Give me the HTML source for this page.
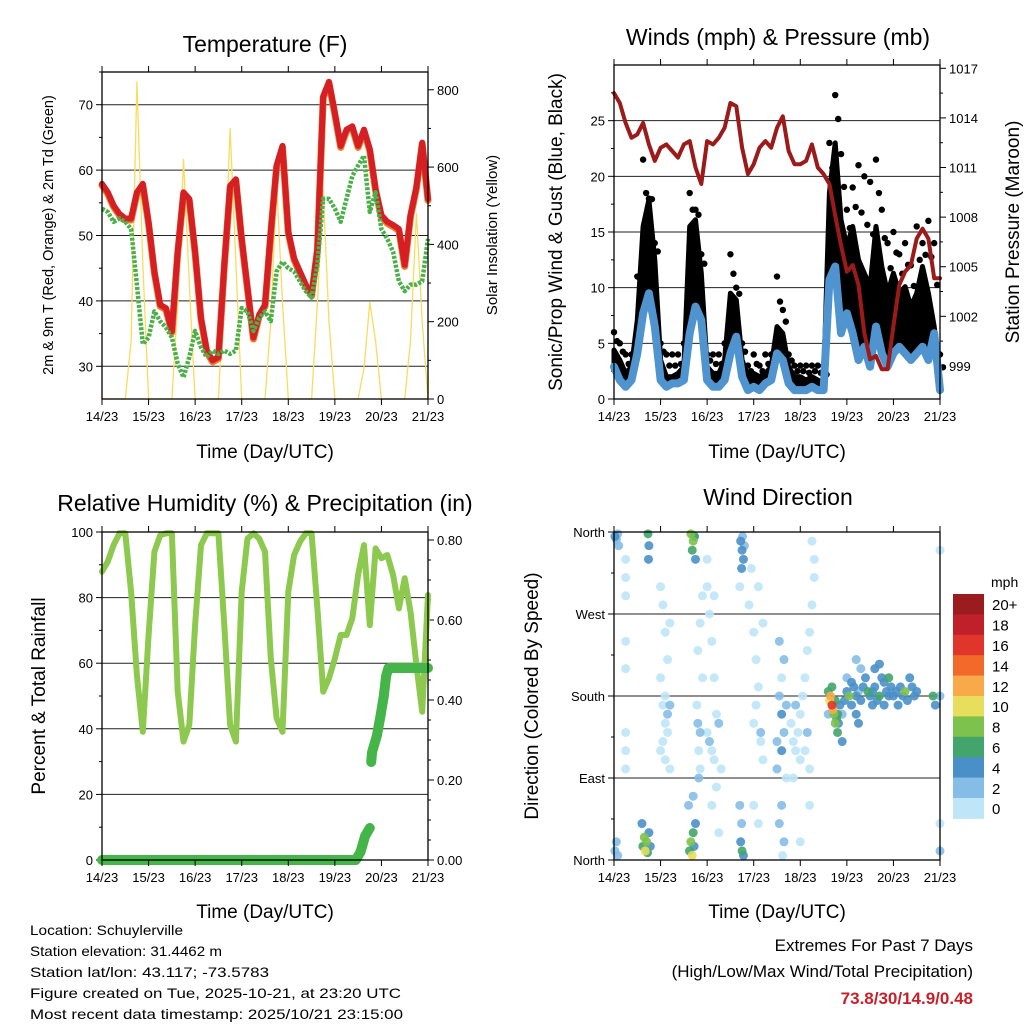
<!DOCTYPE html>
<html><head><meta charset="utf-8"><style>
html,body{margin:0;padding:0;background:#fff;}
svg{display:block;font-family:"Liberation Sans",Arial,sans-serif;}
</style></head><body>
<svg id="chart" width="1024" height="1024" viewBox="0 0 1024 1024" xmlns="http://www.w3.org/2000/svg">
<rect width="1024" height="1024" fill="#fff"/>
<g id="g1"></g>
<g id="g2"></g>
<g id="g3"></g>
<g id="g4"></g>
<g id="g5"></g>
<g font-size="14" fill="#000">
<text x="30" y="935" textLength="153" lengthAdjust="spacingAndGlyphs">Location: Schuylerville</text>
<text x="30" y="956" textLength="192" lengthAdjust="spacingAndGlyphs">Station elevation: 31.4462 m</text>
<text x="30" y="977" textLength="239" lengthAdjust="spacingAndGlyphs">Station lat/lon: 43.117; -73.5783</text>
<text x="30" y="998" textLength="371" lengthAdjust="spacingAndGlyphs">Figure created on Tue, 2025-10-21, at 23:20 UTC</text>
<text x="30" y="1019" textLength="373" lengthAdjust="spacingAndGlyphs">Most recent data timestamp: 2025/10/21 23:15:00</text>
</g>
<g font-size="17" text-anchor="end">
<text x="973" y="951">Extremes For Past 7 Days</text>
<text x="973" y="977">(High/Low/Max Wind/Total Precipitation)</text>
<text x="973" y="1004" fill="#c8202a" font-weight="bold">73.8/30/14.9/0.48</text>
</g>
</svg>
<script>
// ---------- data (3-hourly, t in days from 14/23) ----------
const dayLabels = ["14/23","15/23","16/23","17/23","18/23","19/23","20/23","21/23"];
const tempF = [57.9,56.6,54.6,53.3,52.6,52.6,56.6,57.9,52,44.5,39.4,38.9,35.4,47.5,56.6,55.6,47.5,37.4,32.4,30.9,31.4,45.5,57.6,58.6,49.5,42,34.4,37.9,39.4,50.6,60.7,63.7,50.6,46.5,44.5,42.5,41,48,71.3,73.5,68.7,63.7,66.2,66.7,63.7,66.2,63.2,57.1,53.1,52.1,51.6,51,45.5,53.1,57.4,64.2,55.6];
const dewF = [54.1,53.6,52.1,52.6,52.1,51,42.5,33.4,34.4,38.4,36.9,35.9,34.4,30.4,28.3,31.4,35.4,32.9,31.4,32.4,31.9,32.4,31.9,32.4,38.9,38.4,35.4,37.4,38.4,36.9,44.5,46,45,44.5,43,41.5,40.5,45.5,55.6,55.6,54.1,52.1,55.6,59.1,60.7,62.2,53.6,56.6,51,49.5,47.5,43,41.5,42.5,42.5,43,49.5];
const solar = [0,0,0,0,0,150,820,350, 0,0,0,0,0,250,620,300, 0,0,0,0,0,300,700,350, 0,0,0,0,0,200,560,250, 0,0,0,0,0,250,540,200, 0,0,0,0,0,80,250,150, 0,0,0,0,0,150,480,200, 0];
const pressure = [1015.5,1014.9,1013.7,1012.8,1013.0,1013.7,1012.4,1011.4,1012.2,1012.4,1012.0,1011.6,1012.4,1012.6,1011.0,1010.0,1012.6,1012.4,1012.8,1013.4,1014.9,1014.7,1012.2,1010.6,1011.2,1012.2,1012.6,1012.2,1013.4,1014.1,1012.0,1011.2,1011.2,1011.4,1012.4,1011.0,1010.6,1010.0,1008.1,1006.3,1004.7,1005.1,1003.9,1001.0,999.4,999.6,998.8,998.8,1001.4,1003.9,1004.7,1005.1,1006.7,1007.3,1006.7,1004.3,1004.3];
const wind = [2.9,1.7,1.1,1.7,4.1,7.7,9.5,6.5,1.7,1.1,1.4,1.4,1.7,5.9,8.3,7.1,1.7,1.1,1.1,1.7,4.1,5.6,2.0,0.8,1.1,0.8,1.4,1.7,4.1,3.5,1.4,0.8,0.8,0.8,1.1,0.8,0.8,10.7,11.9,5.9,7.7,5.9,3.5,4.7,2.9,6.5,4.1,2.9,4.1,4.7,4.1,3.5,4.1,4.7,3.5,5.9,0.8];
const gust = [4.4,3.5,2.3,2.9,7.1,15.5,17.9,12.5,3.5,2.0,2.0,2.3,2.9,15.5,16.1,11.3,2.9,2.3,2.3,3.5,9.5,8.9,3.5,2.0,2.3,2.0,2.3,2.9,6.5,5.9,2.9,2.0,2.0,1.7,2.0,1.7,1.4,18.5,23.0,16.1,13.7,15.5,12.5,11.3,10.1,15.5,11.9,9.5,11.3,9.5,10.1,8.3,9.5,11.9,9.5,6.5,1.7];
const gustMax = [6,5,4,4,11,21.5,18,14,5,4,4,4,5,18.5,17,13,4,4,4,5,13,10,5,3,4,3,4,4,11,8,4,3,3,3,3,3,3,23,27.3,22,17,19,21,20,19.5,21.5,17,14,15,13,14,12,15.5,14,16,14,4];
const rh = [87.9,91,96,99.6,99.6,81.8,56.4,39.1,68.6,94,99,99.6,99.6,51.3,36.1,41.2,71.6,96,99.6,99.6,99.6,71.6,41.2,36.1,81.8,98,99.6,98,94,61.5,43.2,39.1,81.8,93,97,99.6,99.6,76.7,51.3,55.4,61.5,68.6,68.6,73.7,86.9,96,71.6,95,92,93,86.9,76.7,85.9,75.7,59.5,45.2,80.8];
const precipT = [0,5.45,5.55,5.65,5.75,null,5.78,5.8,5.9,5.98,6.05,6.1,6.15,7];
const precipV = [0,0,0.02,0.06,0.08,null,0.245,0.27,0.31,0.36,0.41,0.46,0.48,0.48];
const dirT = [0.02,0.05,0.08,0.1,0.02,0.05,0.08,0.25,0.25,0.25,0.25,0.25,0.25,0.25,0.25,0.62,0.65,0.67,0.7,0.72,0.75,0.78,0.6,0.73,0.75,0.74,1.0,1.05,1.1,1.0,1.05,1.1,1.15,1.0,1.1,1.2,1.15,1.2,1.05,1.15,1.2,1.1,1.62,1.65,1.68,1.7,1.72,1.75,1.6,1.7,1.65,1.7,1.72,1.68,1.75,1.73,1.8,1.85,1.82,1.85,1.78,1.9,1.8,1.85,1.9,1.82,2.0,2.05,2.1,2.15,2.2,2.0,2.05,2.1,2.15,2.25,2.3,2.2,2.1,2.25,2.0,2.15,2.72,2.75,2.78,2.74,2.8,2.76,2.7,2.72,2.75,2.78,2.74,2.7,2.9,3.0,3.05,3.1,3.0,3.15,3.2,3.05,2.95,3.1,3.2,3.0,3.1,3.15,3.55,3.6,3.65,3.5,3.6,3.7,3.55,3.65,3.6,3.5,3.7,3.6,3.55,3.65,3.62,3.8,3.85,3.9,3.95,4.0,4.05,4.1,4.15,4.2,4.25,4.3,4.1,4.2,3.9,4.0,4.15,4.25,4.3,3.85,4.0,4.2,4.6,4.63,4.65,4.68,4.7,4.72,4.75,4.78,4.8,4.82,4.85,4.9,4.68,4.75,4.8,4.9,4.6,4.95,5.0,5.05,5.1,5.15,5.2,5.25,5.3,5.35,5.1,5.2,5.3,5.4,5.45,5.5,5.25,5.0,5.2,5.55,5.6,5.65,5.7,5.75,5.8,5.85,5.9,5.6,5.7,5.55,5.8,5.9,5.95,6.0,6.05,6.1,6.15,6.2,6.25,6.3,6.35,6.4,6.45,6.5,6.85,6.9,7.0,7.0,7.0,7.0];
const dirD = [355,352,358,345,10,20,5,330,310,290,240,210,140,120,100,15,25,10,20,8,30,15,40,358,345,330,300,280,250,200,170,150,140,120,110,100,220,260,130,160,170,180,10,20,5,30,15,40,60,70,358,350,355,340,330,355,150,140,120,100,170,200,230,260,290,90,300,270,240,200,160,140,130,120,110,150,100,80,60,30,330,290,350,340,330,320,345,355,300,20,10,5,40,60,280,250,220,190,150,130,110,170,320,300,260,60,40,140,180,160,140,130,120,170,240,220,200,100,90,60,40,20,5,150,130,120,140,160,180,200,230,250,280,310,120,100,170,110,140,350,330,90,20,60,185,175,180,170,165,160,150,155,140,150,170,160,190,175,160,130,160,175,185,180,195,190,180,185,175,190,170,160,210,200,185,180,150,200,220,185,190,175,180,200,195,185,180,210,215,170,170,200,190,180,185,170,190,180,185,175,200,190,180,185,180,170,180,40,10,340];
const dirS = [4,3,3,2,2,2,3,1,1,1,1,1,1,1,1,6,8,10,9,6,5,4,4,6,4,4,1,1,1,1,1,1,1,1,1,1,1,1,1,2,2,1,6,9,10,7,5,4,3,3,8,9,7,6,4,4,2,3,1,1,1,1,1,1,1,3,1,1,1,1,1,1,3,1,1,2,1,1,1,1,1,1,4,4,4,4,3,3,1,4,6,5,3,2,1,1,1,1,1,1,1,1,1,1,1,1,1,2,3,4,3,2,4,2,3,3,1,3,1,2,3,3,1,1,1,1,1,1,1,1,1,1,1,1,1,1,2,1,2,1,1,1,1,1,6,10,12,16,12,8,8,6,6,4,4,3,7,7,7,5,3,5,5,8,4,5,5,3,5,4,4,4,3,4,6,4,4,3,3,4,5,4,6,4,5,4,4,5,4,4,4,7,4,5,5,4,4,4,8,4,5,5,4,4,7,5,2,1,2,1];
const speedLabels = ["20+","18","16","14","12","10","8","6","4","2","0"];
const speedColors = ["#9b1c1f","#c0202a","#e0352b","#f26a2a","#f8a94a","#e6de5c","#7cc24c","#43a56b","#4a90c8","#86bde6","#bfe6f8"];

// ---------- helpers ----------
const NS = "http://www.w3.org/2000/svg";
function mk(parent, tag, attrs, text) {
  const e = document.createElementNS(NS, tag);
  for (const k in attrs) e.setAttribute(k, attrs[k]);
  if (text !== undefined) e.textContent = text;
  parent.appendChild(e);
  return e;
}
const tIdx = i => i * 0.125;
function panel(g, L, R, T, B) { return t => L + (R - L) * t / 7; }
function linY(v0, v1, B, T) { return v => B - (v - v0) / (v1 - v0) * (B - T); }
function pathFrom(xs, ys) {
  let d = ""; let pen = false;
  for (let i = 0; i < xs.length; i++) {
    if (xs[i] === null || ys[i] === null) { pen = false; continue; }
    d += (pen ? "L" : "M") + xs[i].toFixed(1) + "," + ys[i].toFixed(1);
    pen = true;
  }
  return d;
}
function frame(g, L, R, T, B) {
  const f = mk(g, "rect", {x: L, y: T, width: R - L, height: B - T, fill: "none", stroke: "#000", "stroke-width": 1.3});
  
  
}
function xAxis(g, L, R, T, B, sx, titleY) {
  const ax = mk(g, "g", {});
  
  
  dayLabels.forEach((lab, i) => {
    const x = sx(i);
    mk(ax, "line", {x1: x, x2: x, y1: B, y2: B + 6, stroke: "#000", "stroke-width": 1});
    mk(ax, "line", {x1: x, x2: x, y1: T, y2: T - 6, stroke: "#000", "stroke-width": 1});
    const tx = mk(ax, "text", {x: x, y: B + 22, "font-size": 13, "text-anchor": "middle"}, lab);
    
    
  });
  const tt = mk(ax, "text", {x: (L + R) / 2, y: titleY, "font-size": 19, "text-anchor": "middle"}, "Time (Day/UTC)");
  
  
}
function yTicks(g, vals, labels, sy, x, side, grid, L, R, minorVals) {
  const ax = mk(g, "g", {});
  
  
  vals.forEach((v, i) => {
    const y = sy(v);
    if (grid) mk(ax, "line", {x1: L, x2: R, y1: y, y2: y, stroke: "#222", "stroke-width": 1});
    mk(ax, "line", {x1: x, x2: side === "left" ? x - 6 : x + 6, y1: y, y2: y, stroke: "#000"});
    const t = mk(ax, "text", {x: side === "left" ? x - 9 : x + 9, y: y + 5, "font-size": 13, "text-anchor": side === "left" ? "end" : "start"}, labels[i]);
    
    
  });
  (minorVals || []).forEach(v => {
    const y = sy(v);
    mk(ax, "line", {x1: x, x2: side === "left" ? x - 3 : x + 3, y1: y, y2: y, stroke: "#000"});
  });
}
function vTitle(g, x, y, text, size, name) {
  const t = mk(g, "text", {x: x, y: y, "font-size": size, "text-anchor": "middle", transform: "rotate(-90 " + x + " " + y + ")"}, text);
  
  
}
function title(g, x, y, text, name) {
  const t = mk(g, "text", {x: x, y: y, "font-size": 23, "text-anchor": "middle"}, text);
  
  
}
function series(g, d, attrs, name) {
  attrs.d = d; if (!attrs.fill) attrs.fill = "none"; attrs["stroke-linejoin"] = "round"; if (!attrs["stroke-linecap"]) attrs["stroke-linecap"] = "round";
  const p = mk(g, "path", attrs);
  
  
  return p;
}
const times = tempF.map((_, i) => tIdx(i));

// ---------- Panel 1: Temperature ----------
(function () {
  const g = document.getElementById("g1");
  const L = 102, R = 428, T = 72, B = 399;
  const sx = panel(g, L, R, T, B);
  const sy = linY(25, 75, B, T);
  const sr = linY(0, 846, B, T);
  title(g, 265, 52, "Temperature (F)", "temperature-title");
  yTicks(g, [30, 40, 50, 60, 70], ["30", "40", "50", "60", "70"], sy, L, "left", true, L, R, [35, 45, 55, 65, 75]);
  yTicks(g, [0, 200, 400, 600, 800], ["0", "200", "400", "600", "800"], sr, R, "right", false, L, R, [100, 300, 500, 700]);
  series(g, pathFrom(times.map(sx), solar.map(sr)), {stroke: "#f9dc5c", "stroke-width": 1.3}, "solar-insolation-line");
  series(g, pathFrom(times.map(sx), tempF.map(v => sy(v) + 1.5)), {stroke: "#f07a28", "stroke-width": 7}, "temp-9m-line");
  series(g, pathFrom(times.map(sx), tempF.map(sy)), {stroke: "#d42024", "stroke-width": 6}, "temp-2m-line");
  series(g, pathFrom(times.map(sx), dewF.map(sy)), {stroke: "#4bb04a", "stroke-width": 4.5, "stroke-dasharray": "3 1.5", "stroke-linecap": "butt"}, "dewpoint-line");
  frame(g, L, R, T, B);
  xAxis(g, L, R, T, B, sx, 458);
  vTitle(g, 53, 235, "2m & 9m T (Red, Orange) & 2m Td (Green)", 14.5, "y-axis-title-left");
  vTitle(g, 497, 235, "Solar Insolation (Yellow)", 15, "y-axis-title-right");
})();

// ---------- Panel 2: Winds ----------
(function () {
  const g = document.getElementById("g2");
  const L = 614, R = 940, T = 65, B = 399;
  const sx = panel(g, L, R, T, B);
  const sy = linY(0, 30, B, T);
  const sp = linY(997, 1017.2, B, T);
  title(g, 778, 45, "Winds (mph) & Pressure (mb)", "winds-title");
  yTicks(g, [0, 5, 10, 15, 20, 25], ["0", "5", "10", "15", "20", "25"], sy, L, "left", true, L, R, [2.5, 7.5, 12.5, 17.5, 22.5, 27.5]);
  yTicks(g, [999, 1002, 1005, 1008, 1011, 1014, 1017], ["999", "1002", "1005", "1008", "1011", "1014", "1017"], sp, R, "right", false, L, R, [1000.5, 1003.5, 1006.5, 1009.5, 1012.5, 1015.5]);
  // gust cloud: area between wind and gust
  const xs = times.map(sx);
  let area = "M" + xs.map((x, i) => x.toFixed(1) + "," + sy(gust[i]).toFixed(1)).join("L");
  for (let i = xs.length - 1; i >= 0; i--) area += "L" + xs[i].toFixed(1) + "," + sy(wind[i]).toFixed(1);
  area += "Z";
  series(g, area, {fill: "#000", stroke: "#000", "stroke-width": 5}, "gust-area");
  const dots = mk(g, "g", {fill: "#000"});
  
  
  gustMax.forEach((v, i) => {
    const c = mk(dots, "circle", {cx: sx(times[i]), cy: sy(v), r: 3.2});
    
    
    const c2 = mk(dots, "circle", {cx: sx(times[i]) + 3, cy: sy((v + gust[i]) / 2), r: 3.2});
    
    
  });
  series(g, pathFrom(xs, wind.map(sy)), {stroke: "#4f94cf", "stroke-width": 8}, "wind-line");
  series(g, pathFrom(xs, pressure.map(sp)), {stroke: "#9b1b1b", "stroke-width": 4}, "pressure-line");
  frame(g, L, R, T, B);
  xAxis(g, L, R, T, B, sx, 458);
  vTitle(g, 562, 232, "Sonic/Prop Wind & Gust (Blue, Black)", 19, "y-axis-title-left");
  vTitle(g, 1019, 232, "Station Pressure (Maroon)", 19, "y-axis-title-right");
})();

// ---------- Panel 3: RH & Precip ----------
(function () {
  const g = document.getElementById("g3");
  const L = 102, R = 428, T = 532, B = 860;
  const sx = panel(g, L, R, T, B);
  const sy = linY(0, 100, B, T);
  const sr = linY(0, 0.82, B, T);
  title(g, 265, 511, "Relative Humidity (%) & Precipitation (in)", "humidity-title");
  yTicks(g, [0, 20, 40, 60, 80, 100], ["0", "20", "40", "60", "80", "100"], sy, L, "left", true, L, R, [10, 30, 50, 70, 90]);
  yTicks(g, [0, 0.2, 0.4, 0.6, 0.8], ["0.00", "0.20", "0.40", "0.60", "0.80"], sr, R, "right", false, L, R, [0.05, 0.1, 0.15, 0.25, 0.3, 0.35, 0.45, 0.5, 0.55, 0.65, 0.7, 0.75]);
  series(g, pathFrom(times.map(sx), rh.map(sy)), {stroke: "#8dc94f", "stroke-width": 6}, "humidity-line");
  series(g, pathFrom(precipT.map(t => t === null ? null : sx(t)), precipV.map(v => v === null ? null : sr(v))), {stroke: "#45b549", "stroke-width": 10}, "precip-line");
  frame(g, L, R, T, B);
  xAxis(g, L, R, T, B, sx, 918);
  vTitle(g, 45, 696, "Percent & Total Rainfall", 19, "y-axis-title-left");
})();

// ---------- Panel 4: Wind direction ----------
(function () {
  const g = document.getElementById("g4");
  const L = 614, R = 940, T = 532, B = 860;
  const sx = panel(g, L, R, T, B);
  const sy = linY(0, 360, B, T);
  title(g, 778, 505, "Wind Direction", "wind-direction-title");
  yTicks(g, [0, 90, 180, 270, 360], ["North", "East", "South", "West", "North"], sy, L, "left", true, L, R, [45, 135, 225, 315]);
  const pts = mk(g, "g", {});
  
  
  const order = dirT.map((_, i) => i).sort((a, b) => dirS[a] - dirS[b]);
  order.forEach(i => {
    const bin = Math.min(10, Math.floor(dirS[i] / 2));
    const col = speedColors[10 - bin];
    const c = mk(pts, "circle", {cx: sx(dirT[i]), cy: sy(dirD[i]), r: 4.5, fill: col, opacity: 0.9});
    
    
  });
  frame(g, L, R, T, B);
  xAxis(g, L, R, T, B, sx, 918);
  vTitle(g, 538, 696, "Direction (Colored By Speed)", 19, "y-axis-title-left");
})();

// ---------- Colorbar ----------
(function () {
  const g = document.getElementById("g5");
  const x = 953, y0 = 594, w = 31, h = 20.4;
  mk(g, "text", {x: 991, y: 587, "font-size": 14}, "mph");
  speedLabels.forEach((lab, i) => {
    const r = mk(g, "rect", {x: x, y: y0 + i * h, width: w, height: h + 0.5, fill: speedColors[i]});
    
    
    const t = mk(g, "text", {x: 992, y: y0 + i * h + h / 2 + 6, "font-size": 15}, lab);
    
    
  });
})();
</script>
</body></html>
